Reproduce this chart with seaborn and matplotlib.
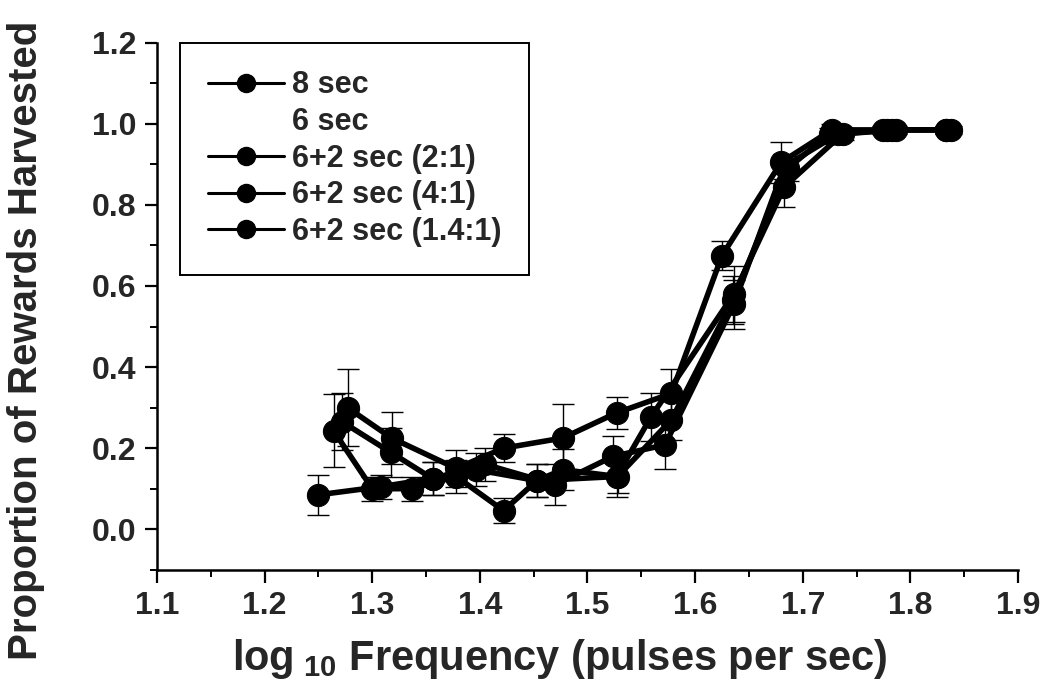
import matplotlib
matplotlib.use("Agg")
import matplotlib.pyplot as plt
from matplotlib.lines import Line2D
from matplotlib.ticker import MultipleLocator
from matplotlib import font_manager
import pandas as pd
import seaborn as sns

# Conditions shown in the legend
conditions = ["8 sec", "6 sec", "6+2 sec (2:1)", "6+2 sec (4:1)", "6+2 sec (1.4:1)"]

# log10 pulse frequency, proportion harvested and SEM for each condition
freq_8s = [1.277, 1.318, 1.378, 1.422, 1.477, 1.527, 1.578, 1.625, 1.680, 1.727, 1.778, 1.833]
prop_8s = [0.30, 0.225, 0.15, 0.20, 0.225, 0.287, 0.335, 0.675, 0.905, 0.985, 0.985, 0.985]
sem_8s = [0.095, 0.065, 0.045, 0.035, 0.085, 0.04, 0.06, 0.035, 0.05, 0.015, 0.01, 0.01]

freq_2to1 = [1.264, 1.300, 1.337, 1.378, 1.422, 1.453, 1.527, 1.559, 1.636, 1.683, 1.737, 1.787, 1.838]
prop_2to1 = [0.243, 0.10, 0.10, 0.13, 0.046, 0.12, 0.13, 0.277, 0.58, 0.845, 0.975, 0.985, 0.985]
sem_2to1 = [0.09, 0.03, 0.03, 0.04, 0.03, 0.04, 0.05, 0.06, 0.07, 0.05, 0.015, 0.01, 0.01]

freq_4to1 = [1.272, 1.317, 1.356, 1.405, 1.470, 1.524, 1.572, 1.636, 1.683, 1.733, 1.783]
prop_4to1 = [0.265, 0.19, 0.125, 0.16, 0.11, 0.18, 0.208, 0.555, 0.895, 0.975, 0.985]
sem_4to1 = [0.07, 0.06, 0.04, 0.04, 0.05, 0.05, 0.06, 0.06, 0.03, 0.015, 0.01]

freq_14to1 = [1.250, 1.308, 1.356, 1.396, 1.453, 1.477, 1.528, 1.578, 1.635, 1.686, 1.725, 1.775, 1.833]
prop_14to1 = [0.085, 0.105, 0.125, 0.147, 0.12, 0.147, 0.13, 0.27, 0.565, 0.89, 0.975, 0.985, 0.985]
sem_14to1 = [0.05, 0.03, 0.04, 0.04, 0.04, 0.05, 0.04, 0.05, 0.06, 0.03, 0.015, 0.01, 0.01]

x_ticks = [1.1, 1.2, 1.3, 1.4, 1.5, 1.6, 1.7, 1.8, 1.9]
y_ticks = [0.0, 0.2, 0.4, 0.6, 0.8, 1.0, 1.2]

series = [
    ("8 sec", freq_8s, prop_8s, sem_8s),
    ("6+2 sec (2:1)", freq_2to1, prop_2to1, sem_2to1),
    ("6+2 sec (4:1)", freq_4to1, prop_4to1, sem_4to1),
    ("6+2 sec (1.4:1)", freq_14to1, prop_14to1, sem_14to1),
]

frames = []
for name, fx, fy, fe in series:
    frames.append(pd.DataFrame({"freq": fx, "prop": fy, "sem": fe, "condition": name}))
df = pd.concat(frames, ignore_index=True)

sns.set_theme(style="ticks")
plt.rcParams["font.family"] = ["Liberation Sans", "DejaVu Sans"]
plt.rcParams["mathtext.fontset"] = "custom"
plt.rcParams["mathtext.rm"] = "Liberation Sans:bold"
plt.rcParams["mathtext.bf"] = "Liberation Sans:bold"
plt.rcParams["mathtext.it"] = "Liberation Sans:bold"

fig = plt.figure(figsize=(10.49, 7.0), dpi=100)
ax = fig.add_axes([0.1497, 0.186, 0.8207, 0.753])

for name, fx, fy, fe in series:
    ax.errorbar(fx, fy, yerr=fe, fmt="none", ecolor="black", elinewidth=1.0,
                capsize=8, capthick=1.0, zorder=1)

sns.lineplot(data=df, x="freq", y="prop", hue="condition",
             palette=["black"] * len(series), marker="o", markersize=16,
             markeredgecolor="black", linewidth=4, sort=False, estimator=None,
             legend=False, ax=ax, zorder=2)

ax.set_xlim(1.1, 1.9)
ax.set_ylim(-0.1, 1.2)
ax.set_xticks(x_ticks)
ax.set_yticks(y_ticks)
ax.xaxis.set_minor_locator(MultipleLocator(0.05))
ax.yaxis.set_minor_locator(MultipleLocator(0.1))
ax.set_xticklabels([f"{v:.1f}" for v in x_ticks], fontweight="bold", fontsize=23)
ax.set_yticklabels([f"{v:.1f}" for v in y_ticks], fontweight="bold", fontsize=23)

ax.tick_params(which="major", direction="out", length=9, width=1.6, color="black", pad=6)
ax.tick_params(which="minor", direction="out", length=5, width=1.4, color="black")
for side in ("top", "right"):
    ax.spines[side].set_visible(False)
for side in ("left", "bottom"):
    ax.spines[side].set_linewidth(1.8)
    ax.spines[side].set_color("black")

ax.set_ylabel("Proportion of Rewards Harvested", fontweight="bold", fontsize=29)
ax.yaxis.set_label_coords(-0.13, 0.436)

ax.set_xlabel(r"log$_{\ \mathbf{10}}$ Frequency (pulses per sec)",
              fontweight="bold", fontsize=30)
ax.xaxis.set_label_coords(0.468, -0.128)

handles = []
for name in conditions:
    if name == "6 sec":
        handles.append(Line2D([], [], linestyle="none", marker=None))
    else:
        handles.append(Line2D([], [], color="black", linewidth=2.2, marker="o",
                              markersize=13, markeredgecolor="black"))
leg = ax.legend(handles, conditions, loc="upper left", bbox_to_anchor=(0.027, 1.0),
                frameon=True, fancybox=False, edgecolor="black", framealpha=1,
                prop={"weight": "bold", "size": 22}, handlelength=2.5,
                handletextpad=0.25, labelspacing=0.22, borderpad=0.9,
                borderaxespad=0)
leg.get_frame().set_linewidth(1.4)

fig.savefig("out.png", dpi=100)
